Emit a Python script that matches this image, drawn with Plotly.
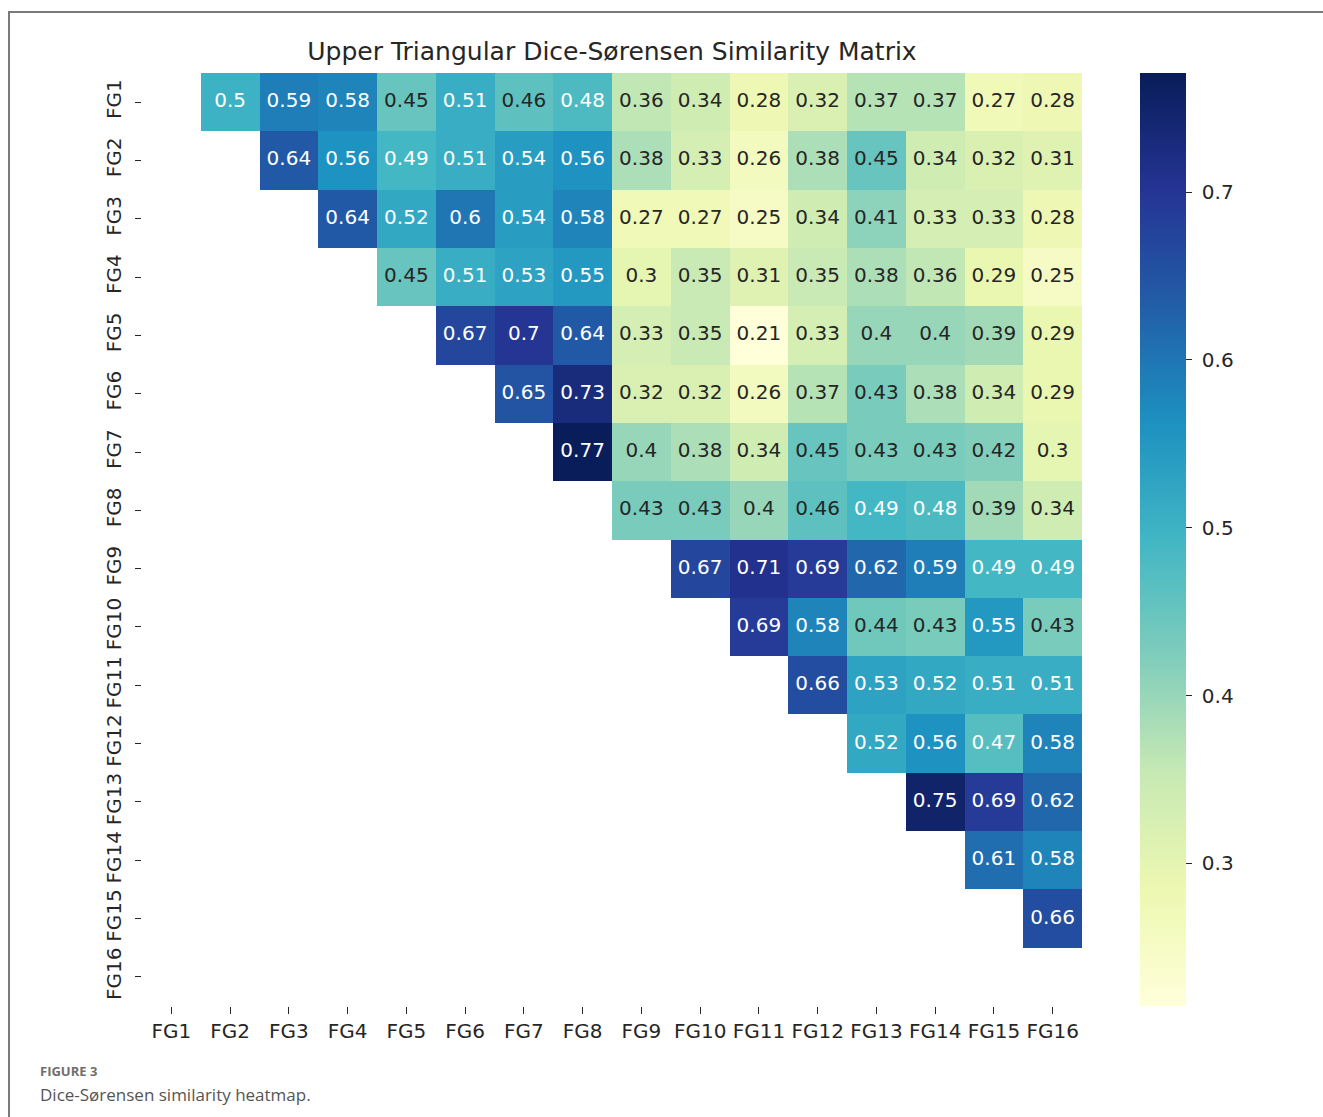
import plotly.graph_objects as go

# Functional groups
groups = [f"FG{i}" for i in range(1, 17)]

# Upper-triangle Dice-Sørensen similarities; row k lists pairs (FGk, FGk+1..FG16)
row_fg1 = [0.5, 0.59, 0.58, 0.45, 0.51, 0.46, 0.48, 0.36, 0.34, 0.28, 0.32, 0.37, 0.37, 0.27, 0.28]
row_fg2 = [0.64, 0.56, 0.49, 0.51, 0.54, 0.56, 0.38, 0.33, 0.26, 0.38, 0.45, 0.34, 0.32, 0.31]
row_fg3 = [0.64, 0.52, 0.6, 0.54, 0.58, 0.27, 0.27, 0.25, 0.34, 0.41, 0.33, 0.33, 0.28]
row_fg4 = [0.45, 0.51, 0.53, 0.55, 0.3, 0.35, 0.31, 0.35, 0.38, 0.36, 0.29, 0.25]
row_fg5 = [0.67, 0.7, 0.64, 0.33, 0.35, 0.21, 0.33, 0.4, 0.4, 0.39, 0.29]
row_fg6 = [0.65, 0.73, 0.32, 0.32, 0.26, 0.37, 0.43, 0.38, 0.34, 0.29]
row_fg7 = [0.77, 0.4, 0.38, 0.34, 0.45, 0.43, 0.43, 0.42, 0.3]
row_fg8 = [0.43, 0.43, 0.4, 0.46, 0.49, 0.48, 0.39, 0.34]
row_fg9 = [0.67, 0.71, 0.69, 0.62, 0.59, 0.49, 0.49]
row_fg10 = [0.69, 0.58, 0.44, 0.43, 0.55, 0.43]
row_fg11 = [0.66, 0.53, 0.52, 0.51, 0.51]
row_fg12 = [0.52, 0.56, 0.47, 0.58]
row_fg13 = [0.75, 0.69, 0.62]
row_fg14 = [0.61, 0.58]
row_fg15 = [0.66]
row_fg16 = []

colorbar_ticks = [0.3, 0.4, 0.5, 0.6, 0.7]

upper_rows = [row_fg1, row_fg2, row_fg3, row_fg4, row_fg5, row_fg6, row_fg7, row_fg8,
              row_fg9, row_fg10, row_fg11, row_fg12, row_fg13, row_fg14, row_fg15, row_fg16]

n = len(groups)
z = []
for i, row in enumerate(upper_rows):
    z.append([None] * (i + 1) + list(row))

# Colour limits (unrounded extremes of the similarity matrix)
COLOR_MIN, COLOR_MAX = 0.215, 0.771

# ColorBrewer YlGnBu, light to dark
ylgnbu = ["#ffffd9", "#edf8b1", "#c7e9b4", "#7fcdbb", "#41b6c4",
          "#1d91c0", "#225ea8", "#253494", "#081d58"]
colorscale = [[k / (len(ylgnbu) - 1), c] for k, c in enumerate(ylgnbu)]

FONT = "DejaVu Sans"
DARK = "#262626"

fig = go.Figure()
fig.add_trace(go.Heatmap(
    z=z, x=list(range(n)), y=list(range(n)),
    zmin=COLOR_MIN, zmax=COLOR_MAX, colorscale=colorscale,
    hoverongaps=False, xgap=0, ygap=0,
    colorbar=dict(
        x=(1140 - 142) / 940, xanchor="left", xref="paper",
        y=0.5, yanchor="middle", len=1, lenmode="fraction",
        thickness=46, outlinewidth=0, xpad=0, ypad=0,
        tickvals=colorbar_ticks,
        ticktext=["\u00a0" + f"{t:g}" for t in colorbar_ticks],
        ticks="outside", ticklen=6, tickwidth=1.2, tickcolor=DARK,
        tickfont=dict(family=FONT, size=20, color=DARK),
    ),
))

# Cell annotations
tx, ty, tt, tc = [], [], [], []
for i, row in enumerate(upper_rows):
    for k, v in enumerate(row):
        j = i + 1 + k
        tx.append(j)
        ty.append(i)
        tt.append(format(v, ".2g"))
        tc.append("white" if v >= 0.47 else DARK)
fig.add_trace(go.Scatter(
    x=tx, y=ty, text=tt, mode="text",
    textfont=dict(family=FONT, size=20, color=tc),
    hoverinfo="skip", showlegend=False,
))

# Outer frame of the figure panel
fig.add_shape(type="rect", xref="paper", yref="paper",
              x0=(9 - 142) / 940, x1=(1340 - 142) / 940,
              y0=(1006 - 1130) / 933, y1=(1006 - 12) / 933,
              line=dict(color="#7a7a7a", width=2), layer="below")

fig.update_xaxes(
    range=[-0.5, n - 0.5], tickvals=list(range(n)), ticktext=groups,
    ticks="outside", ticklen=7, tickwidth=1.2, tickcolor=DARK,
    tickfont=dict(family=FONT, size=20, color=DARK),
    showgrid=False, zeroline=False, showline=False, tickangle=0,
)
fig.update_yaxes(
    range=[n - 0.5, -0.5], tickvals=list(range(n)), ticktext=groups,
    ticks="outside", ticklen=6, tickwidth=1.2, tickcolor=DARK,
    tickfont=dict(family=FONT, size=20, color=DARK),
    showgrid=False, zeroline=False, showline=False, tickangle=-90,
    ticklabelstandoff=6,
)

fig.update_layout(
    width=1323, height=1117,
    margin=dict(l=142, r=241, t=73, b=111),
    paper_bgcolor="white", plot_bgcolor="white",
    title=dict(text="Upper Triangular Dice-Sørensen Similarity Matrix",
               x=0.5, xref="paper", xanchor="center",
               y=1 - 51 / 1117, yanchor="middle",
               font=dict(family=FONT, size=25, color=DARK)),
    annotations=[
        dict(text="<b>FIGURE 3</b>", x=(38 - 142) / 940, y=(1006 - 1071) / 933,
             xref="paper", yref="paper", xanchor="left", yanchor="middle",
             showarrow=False, font=dict(family="Open Sans", size=13, color="#6e6e6e")),
        dict(text="Dice-Sørensen similarity heatmap.", x=(38 - 142) / 940,
             y=(1006 - 1094) / 933, xref="paper", yref="paper",
             xanchor="left", yanchor="middle", showarrow=False,
             font=dict(family="Open Sans", size=17, color="#555555")),
    ],
)

fig.write_html("out.html")
